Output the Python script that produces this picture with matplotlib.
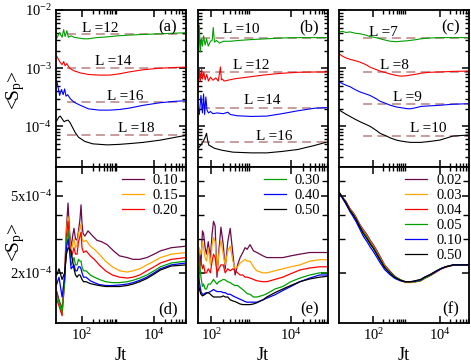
import matplotlib
matplotlib.use("Agg")
import matplotlib.pyplot as plt
from matplotlib.ticker import FixedLocator, FixedFormatter, NullFormatter

plt.rcParams['font.family'] = ['Liberation Serif', 'DejaVu Serif']
plt.rcParams['mathtext.fontset'] = 'custom'
plt.rcParams['mathtext.rm'] = 'Liberation Serif'
plt.rcParams['mathtext.it'] = 'Liberation Serif:italic'

C_PUR = '#6b0a4c'
C_ORA = '#ffa500'
C_RED = '#ff0000'
C_GRN = '#00a000'
C_BLU = '#0000ff'
C_BLK = '#000000'
C_DASH = '#c49494'
top_colors = [C_GRN, C_RED, C_BLU, C_BLK]
bot_colors = [C_PUR, C_ORA, C_RED, C_GRN, C_BLU, C_BLK]

# ---------------- panel (a) ----------------
a_labels = ['L =12', 'L =14', 'L =16', 'L =18']
a_dash = [3.9e-3, 1.0e-3, 2.6e-4, 7.0e-5]
a_x0 = 38
a_x = [
    [20, 24, 28, 31, 34, 38, 42, 50, 60, 80, 110, 150, 250, 500, 1000, 2000, 5000, 15000, 40000, 77000],
    [20, 24, 28, 31, 34, 38, 45, 60, 90, 150, 300, 600, 1100, 2000, 5000, 15000, 40000, 77000],
    [20, 22, 24, 27, 30, 33, 36, 40, 47, 60, 90, 150, 300, 600, 1100, 2000, 5000, 15000, 40000, 77000],
    [20, 23, 25, 28, 32, 36, 41, 47, 55, 65, 80, 120, 200, 500, 1100, 2500, 5000, 15000, 40000, 77000],
]
a_y = [
    [3.3e-3, 4.1e-3, 3.4e-3, 4.6e-3, 3.5e-3, 4.4e-3, 3.4e-3, 3.6e-3, 3.4e-3, 3.3e-3, 3.2e-3, 3.2e-3,
     3.35e-3, 3.45e-3, 3.6e-3, 3.7e-3, 3.8e-3, 3.9e-3, 4.0e-3, 4.05e-3],
    [1.6e-3, 1.3e-3, 1.15e-3, 1.3e-3, 1.1e-3, 1.2e-3, 1.0e-3, 9.0e-4, 8.3e-4, 7.8e-4, 7.6e-4, 7.6e-4,
     8.0e-4, 8.6e-4, 9.4e-4, 1.0e-3, 1.03e-3, 1.04e-3],
    [6.0e-4, 4.5e-4, 3.4e-4, 4.3e-4, 3.5e-4, 4.4e-4, 3.3e-4, 3.5e-4, 3.0e-4, 2.6e-4, 2.3e-4, 2.0e-4,
     1.9e-4, 1.9e-4, 1.95e-4, 2.05e-4, 2.3e-4, 2.55e-4, 2.7e-4, 2.75e-4],
    [1.25e-4, 1.45e-4, 1.5e-4, 1.35e-4, 1.2e-4, 1.25e-4, 1.28e-4, 1.15e-4, 9.5e-5, 7.8e-5, 6.5e-5, 5.5e-5,
     5.0e-5, 4.8e-5, 4.9e-5, 5.1e-5, 5.3e-5, 5.8e-5, 6.5e-5, 7.0e-5],
]

# ---------------- panel (b) ----------------
b_labels = ['L =10', 'L =12', 'L =14', 'L =16']
b_dash = [3.35e-3, 8.6e-4, 2.1e-4, 5.3e-5]
b_x0 = 55
b_x = [
    [46, 48, 50, 53, 56, 60, 64, 70, 76, 84, 95, 105, 112, 120, 135, 160, 200, 300, 500, 1000, 2500,
     6000, 15000, 40000, 84000],
    [47, 50, 53, 57, 60, 65, 70, 77, 85, 95, 110, 130, 150, 170, 180, 190, 210, 260, 400, 800, 2000,
     5000, 15000, 40000, 84000],
    [47, 50, 55, 60, 64, 68, 73, 78, 85, 95, 110, 140, 200, 260, 300, 450, 1000, 2500, 6000, 15000,
     40000, 84000],
    [47, 55, 63, 70, 76, 80, 86, 95, 120, 180, 350, 1000, 2500, 6000, 15000, 40000, 84000],
]
b_y = [
    [9.0e-3, 2.0e-3, 5.5e-3, 1.9e-3, 3.2e-3, 2.4e-3, 3.6e-3, 2.5e-3, 3.2e-3, 2.4e-3, 2.9e-3, 3.0e-3,
     5.0e-3, 2.8e-3, 3.0e-3, 2.7e-3, 2.9e-3, 2.9e-3, 3.0e-3, 3.1e-3, 3.2e-3, 3.3e-3, 3.35e-3, 3.35e-3, 3.35e-3],
    [4.4e-4, 1.0e-3, 6.0e-4, 9.5e-4, 6.5e-4, 8.5e-4, 6.3e-4, 7.8e-4, 6.0e-4, 7.0e-4, 6.2e-4, 6.8e-4,
     6.0e-4, 1.05e-3, 6.3e-4, 6.5e-4, 6.0e-4, 6.2e-4, 6.6e-4, 7.0e-4, 7.6e-4, 8.1e-4, 8.5e-4, 8.6e-4, 8.6e-4],
    [2.0e-4, 1.6e-4, 3.4e-4, 1.7e-4, 3.6e-4, 1.6e-4, 3.2e-4, 1.9e-4, 1.7e-4, 1.8e-4, 1.65e-4, 1.7e-4,
     1.65e-4, 1.75e-4, 1.6e-4, 1.52e-4, 1.48e-4, 1.5e-4, 1.65e-4, 1.85e-4, 2.05e-4, 2.1e-4],
    [4.2e-5, 4.8e-5, 5.5e-5, 6.5e-5, 7.6e-5, 6.0e-5, 4.8e-5, 4.6e-5, 4.2e-5, 3.9e-5, 3.6e-5, 3.5e-5,
     3.5e-5, 3.7e-5, 4.0e-5, 4.7e-5, 5.4e-5],
]

# ---------------- panel (c) ----------------
c_labels = ['L =7', 'L =8', 'L =9', 'L =10']
c_dash = [3.35e-3, 8.6e-4, 2.4e-4, 6.8e-5]
c_x0 = 50
c_xs = [9.5, 12, 15, 20, 28, 40, 60, 80, 120, 160, 250, 330, 500, 660, 1000, 1300, 2000, 2700, 5000,
        10000, 25000, 76000]
c_y = [
    [4.2e-3, 4.3e-3, 4.1e-3, 4.2e-3, 4.0e-3, 3.9e-3, 3.7e-3, 3.5e-3, 3.35e-3, 3.2e-3, 3.0e-3, 2.9e-3,
     2.85e-3, 2.9e-3, 2.95e-3, 3.0e-3, 3.1e-3, 3.2e-3, 3.3e-3, 3.35e-3, 3.35e-3, 3.35e-3],
    [1.75e-3, 1.6e-3, 1.5e-3, 1.42e-3, 1.35e-3, 1.27e-3, 1.15e-3, 1.04e-3, 9.5e-4, 8.9e-4, 8.3e-4, 7.9e-4,
     7.5e-4, 7.3e-4, 7.4e-4, 7.6e-4, 7.9e-4, 8.2e-4, 8.5e-4, 8.6e-4, 8.8e-4, 8.9e-4],
    [5.8e-4, 5.4e-4, 5.1e-4, 4.8e-4, 4.3e-4, 3.9e-4, 3.6e-4, 3.4e-4, 3.0e-4, 2.7e-4, 2.45e-4, 2.3e-4,
     2.15e-4, 2.1e-4, 2.02e-4, 2.0e-4, 2.1e-4, 2.2e-4, 2.25e-4, 2.3e-4, 2.4e-4, 2.45e-4],
    [1.9e-4, 1.75e-4, 1.62e-4, 1.48e-4, 1.33e-4, 1.2e-4, 1.08e-4, 1.0e-4, 8.6e-5, 7.6e-5, 6.8e-5, 6.3e-5,
     5.8e-5, 5.6e-5, 5.4e-5, 5.3e-5, 5.3e-5, 5.3e-5, 5.5e-5, 5.8e-5, 6.8e-5, 7.1e-5],
]

# ---------------- panel (d) ----------------
d_labels = ['0.10', '0.15', '0.20', '0.30', '0.40', '0.50']
d_x_pur = [20, 23, 28, 33, 37, 41, 45, 50, 55, 60, 66, 73, 80, 88, 94, 100, 107, 120, 147, 200, 260,
           350, 500, 750, 1100, 1800, 2600, 4000, 6300, 10000, 15000, 30000, 77000]
d_xs = [20, 23, 28, 33, 37, 41, 45, 50, 55, 60, 66, 73, 80, 88, 94, 100, 110, 130, 170, 220, 300, 450,
        700, 1100, 1800, 2600, 4000, 6300, 10000, 15000, 30000, 77000]
d_y = [
    [1.6e-4, 1.45e-4, 1.3e-4, 2.0e-4, 3.4e-4, 4.6e-4, 3.3e-4, 2.7e-4, 3.1e-4, 3.4e-4, 3.0e-4, 2.95e-4,
     3.3e-4, 3.8e-4, 4.5e-4, 3.6e-4, 3.2e-4, 3.1e-4, 3.3e-4, 3.1e-4, 2.95e-4, 2.9e-4, 2.8e-4, 2.6e-4,
     2.45e-4, 2.4e-4, 2.35e-4, 2.35e-4, 2.4e-4, 2.5e-4, 2.6e-4, 2.7e-4, 2.75e-4],
    [1.5e-4, 1.4e-4, 1.25e-4, 1.9e-4, 3.3e-4, 3.9e-4, 3.1e-4, 2.6e-4, 2.8e-4, 3.0e-4, 2.7e-4, 2.8e-4,
     3.2e-4, 3.4e-4, 3.6e-4, 3.0e-4, 2.9e-4, 2.95e-4, 2.75e-4, 2.65e-4, 2.5e-4, 2.3e-4, 2.15e-4, 2.05e-4,
     2.02e-4, 2.05e-4, 2.1e-4, 2.2e-4, 2.3e-4, 2.4e-4, 2.5e-4, 2.55e-4],
    [1.45e-4, 1.35e-4, 1.2e-4, 1.8e-4, 3.1e-4, 3.7e-4, 2.9e-4, 2.4e-4, 2.55e-4, 2.7e-4, 2.5e-4, 2.5e-4,
     2.9e-4, 3.1e-4, 3.25e-4, 2.7e-4, 2.55e-4, 2.6e-4, 2.45e-4, 2.35e-4, 2.2e-4, 2.05e-4, 1.95e-4, 1.9e-4,
     1.88e-4, 1.9e-4, 1.95e-4, 2.05e-4, 2.15e-4, 2.25e-4, 2.35e-4, 2.4e-4],
    [1.55e-4, 1.4e-4, 1.25e-4, 1.8e-4, 2.9e-4, 3.3e-4, 2.7e-4, 2.2e-4, 2.3e-4, 2.4e-4, 2.2e-4, 2.2e-4,
     2.35e-4, 2.3e-4, 2.3e-4, 2.15e-4, 2.05e-4, 2.05e-4, 1.95e-4, 1.9e-4, 1.85e-4, 1.8e-4, 1.78e-4, 1.78e-4,
     1.8e-4, 1.83e-4, 1.88e-4, 1.95e-4, 2.05e-4, 2.15e-4, 2.25e-4, 2.3e-4],
    [1.75e-4, 1.9e-4, 1.5e-4, 1.9e-4, 2.7e-4, 3.0e-4, 2.6e-4, 2.1e-4, 2.15e-4, 2.2e-4, 2.05e-4, 2.05e-4,
     2.15e-4, 2.15e-4, 2.1e-4, 2.0e-4, 1.9e-4, 1.9e-4, 1.82e-4, 1.78e-4, 1.74e-4, 1.72e-4, 1.72e-4, 1.73e-4,
     1.75e-4, 1.78e-4, 1.83e-4, 1.9e-4, 2.0e-4, 2.1e-4, 2.2e-4, 2.25e-4],
    [1.95e-4, 2.1e-4, 1.85e-4, 2.0e-4, 2.5e-4, 2.7e-4, 2.65e-4, 2.6e-4, 2.3e-4, 2.1e-4, 1.95e-4, 1.9e-4,
     1.95e-4, 1.95e-4, 1.9e-4, 1.85e-4, 1.8e-4, 1.8e-4, 1.76e-4, 1.74e-4, 1.72e-4, 1.7e-4, 1.7e-4, 1.7e-4,
     1.72e-4, 1.75e-4, 1.8e-4, 1.87e-4, 1.97e-4, 2.07e-4, 2.17e-4, 2.2e-4],
]

# ---------------- panel (e) ----------------
e_xs = [46, 50, 55, 60, 64, 70, 76, 84, 95, 105, 114, 125, 139, 155, 175, 200, 224, 260, 299, 350, 398,
        460, 531, 620, 707, 800, 944, 1150, 1400, 2000, 2500, 4000, 6300, 10000, 17000, 30000, 53000, 84000]
e_y = [
    [1.2e-4, 2.6e-4, 2.2e-4, 3.3e-4, 3.2e-4, 2.7e-4, 2.5e-4, 2.9e-4, 2.4e-4, 3.2e-4, 3.7e-4, 3.5e-4,
     1.9e-4, 2.6e-4, 3.45e-4, 2.8e-4, 2.1e-4, 2.9e-4, 3.4e-4, 2.5e-4, 1.95e-4, 2.2e-4, 2.4e-4, 2.55e-4,
     2.7e-4, 2.65e-4, 2.8e-4, 2.6e-4, 2.55e-4, 2.45e-4, 2.4e-4, 2.4e-4, 2.4e-4, 2.45e-4, 2.5e-4, 2.55e-4,
     2.55e-4, 2.55e-4],
    [1.6e-4, 2.7e-4, 2.5e-4, 2.9e-4, 2.7e-4, 2.4e-4, 2.3e-4, 2.7e-4, 2.2e-4, 2.8e-4, 3.05e-4, 2.9e-4,
     2.0e-4, 2.5e-4, 2.95e-4, 2.5e-4, 2.2e-4, 2.6e-4, 2.75e-4, 2.3e-4, 2.1e-4, 2.15e-4, 2.25e-4, 2.3e-4,
     2.35e-4, 2.3e-4, 2.3e-4, 2.15e-4, 2.05e-4, 2.0e-4, 2.0e-4, 2.05e-4, 2.1e-4, 2.15e-4, 2.2e-4, 2.3e-4,
     2.34e-4, 2.34e-4],
    [1.4e-4, 2.1e-4, 2.3e-4, 2.1e-4, 2.2e-4, 2.0e-4, 2.0e-4, 2.1e-4, 2.0e-4, 2.3e-4, 2.5e-4, 2.4e-4,
     2.0e-4, 2.1e-4, 2.2e-4, 2.2e-4, 2.0e-4, 2.1e-4, 2.05e-4, 2.1e-4, 2.05e-4, 2.0e-4, 1.95e-4, 1.95e-4,
     1.9e-4, 1.9e-4, 1.88e-4, 1.85e-4, 1.82e-4, 1.8e-4, 1.8e-4, 1.85e-4, 1.9e-4, 1.98e-4, 2.07e-4, 2.12e-4,
     2.15e-4, 2.15e-4],
    [2.6e-4, 2.4e-4, 1.9e-4, 1.7e-4, 1.75e-4, 1.65e-4, 1.65e-4, 1.75e-4, 1.75e-4, 1.8e-4, 1.85e-4, 1.8e-4,
     1.75e-4, 1.8e-4, 1.82e-4, 1.85e-4, 1.84e-4, 1.8e-4, 1.78e-4, 1.74e-4, 1.72e-4, 1.72e-4, 1.68e-4,
     1.64e-4, 1.6e-4, 1.56e-4, 1.55e-4, 1.5e-4, 1.5e-4, 1.53e-4, 1.56e-4, 1.65e-4, 1.7e-4, 1.8e-4, 1.88e-4,
     1.95e-4, 2.0e-4, 2.0e-4],
    [2.0e-4, 1.8e-4, 1.6e-4, 1.55e-4, 1.55e-4, 1.57e-4, 1.58e-4, 1.58e-4, 1.6e-4, 1.62e-4, 1.64e-4,
     1.62e-4, 1.6e-4, 1.6e-4, 1.6e-4, 1.58e-4, 1.58e-4, 1.55e-4, 1.55e-4, 1.52e-4, 1.5e-4, 1.48e-4,
     1.46e-4, 1.44e-4, 1.42e-4, 1.41e-4, 1.41e-4, 1.41e-4, 1.41e-4, 1.45e-4, 1.48e-4, 1.54e-4, 1.62e-4,
     1.7e-4, 1.8e-4, 1.88e-4, 1.95e-4, 1.95e-4],
    [1.8e-4, 1.65e-4, 1.55e-4, 1.52e-4, 1.53e-4, 1.55e-4, 1.57e-4, 1.58e-4, 1.55e-4, 1.52e-4, 1.5e-4,
     1.5e-4, 1.5e-4, 1.5e-4, 1.5e-4, 1.52e-4, 1.5e-4, 1.5e-4, 1.45e-4, 1.43e-4, 1.42e-4, 1.4e-4, 1.38e-4,
     1.37e-4, 1.37e-4, 1.37e-4, 1.37e-4, 1.38e-4, 1.4e-4, 1.45e-4, 1.5e-4, 1.58e-4, 1.65e-4, 1.72e-4,
     1.8e-4, 1.86e-4, 1.9e-4, 1.92e-4],
]

# ---------------- panel (f) ----------------
f_labels = ['0.02', '0.03', '0.04', '0.05', '0.10', '0.50']
f_xs = [9.5, 12, 15, 20, 25, 30, 40, 50, 65, 81, 100, 130, 163, 220, 327, 450, 658, 900, 1320, 1800,
        2660, 3500, 5340, 7500, 10700, 15000, 26000, 43000, 76000]
f_y = [
    [5.2e-4, 4.9e-4, 4.7e-4, 4.3e-4, 4.1e-4, 3.9e-4, 3.55e-4, 3.35e-4, 3.15e-4, 2.95e-4, 2.8e-4, 2.6e-4,
     2.42e-4, 2.2e-4, 2.03e-4, 1.92e-4, 1.84e-4, 1.8e-4, 1.8e-4, 1.8e-4, 1.83e-4, 1.88e-4, 1.95e-4,
     2.02e-4, 2.1e-4, 2.15e-4, 2.2e-4, 2.2e-4, 2.2e-4],
    [5.2e-4, 4.9e-4, 4.6e-4, 4.25e-4, 4.05e-4, 3.85e-4, 3.5e-4, 3.3e-4, 3.1e-4, 2.9e-4, 2.75e-4, 2.55e-4,
     2.38e-4, 2.18e-4, 2.0e-4, 1.9e-4, 1.83e-4, 1.78e-4, 1.78e-4, 1.79e-4, 1.82e-4, 1.88e-4, 1.95e-4,
     2.02e-4, 2.1e-4, 2.15e-4, 2.2e-4, 2.2e-4, 2.2e-4],
    [5.2e-4, 4.9e-4, 4.6e-4, 4.2e-4, 4.0e-4, 3.8e-4, 3.47e-4, 3.27e-4, 3.07e-4, 2.87e-4, 2.72e-4, 2.52e-4,
     2.36e-4, 2.16e-4, 2.0e-4, 1.9e-4, 1.84e-4, 1.8e-4, 1.8e-4, 1.8e-4, 1.82e-4, 1.87e-4, 1.94e-4,
     2.01e-4, 2.09e-4, 2.14e-4, 2.19e-4, 2.2e-4, 2.2e-4],
    [5.2e-4, 4.9e-4, 4.6e-4, 4.2e-4, 4.0e-4, 3.8e-4, 3.45e-4, 3.25e-4, 3.05e-4, 2.85e-4, 2.7e-4, 2.5e-4,
     2.34e-4, 2.15e-4, 2.0e-4, 1.9e-4, 1.84e-4, 1.8e-4, 1.8e-4, 1.8e-4, 1.82e-4, 1.88e-4, 1.95e-4,
     2.02e-4, 2.1e-4, 2.15e-4, 2.2e-4, 2.2e-4, 2.2e-4],
    [5.2e-4, 4.85e-4, 4.55e-4, 4.15e-4, 3.9e-4, 3.7e-4, 3.35e-4, 3.1e-4, 2.9e-4, 2.72e-4, 2.58e-4, 2.4e-4,
     2.25e-4, 2.08e-4, 1.95e-4, 1.87e-4, 1.82e-4, 1.8e-4, 1.8e-4, 1.81e-4, 1.84e-4, 1.9e-4, 1.96e-4,
     2.03e-4, 2.1e-4, 2.15e-4, 2.2e-4, 2.2e-4, 2.2e-4],
    [5.2e-4, 4.9e-4, 4.6e-4, 4.2e-4, 4.0e-4, 3.8e-4, 3.45e-4, 3.2e-4, 3.0e-4, 2.82e-4, 2.68e-4, 2.48e-4,
     2.32e-4, 2.13e-4, 1.98e-4, 1.89e-4, 1.83e-4, 1.8e-4, 1.8e-4, 1.82e-4, 1.85e-4, 1.9e-4, 1.97e-4,
     2.04e-4, 2.1e-4, 2.15e-4, 2.2e-4, 2.2e-4, 2.2e-4],
]

xlims = [(19, 7.7e4), (45, 8.4e4), (9.3, 7.6e4)]

fig = plt.figure(figsize=(4.71, 3.64), dpi=100)
W, H = 471.0, 364.0
lefts = [56, 197.5, 339]
width = 130
axs_top = [fig.add_axes([l / W, 1 - 167 / H, width / W, 157 / H]) for l in lefts]
axs_bot = [fig.add_axes([l / W, 1 - 323 / H, width / W, 156 / H]) for l in lefts]


def style(ax, xlim):
    ax.set_xscale('log')
    ax.set_yscale('log')
    ax.set_xlim(*xlim)
    ax.xaxis.set_major_locator(FixedLocator([1e2, 1e4]))
    ax.xaxis.set_major_formatter(FixedFormatter(['10$^{2}$', '10$^{4}$']))
    ax.xaxis.set_minor_locator(FixedLocator([k * 10.0 ** e for e in (2, 4) for k in range(2, 10)]))
    ax.xaxis.set_minor_formatter(NullFormatter())
    ax.tick_params(which='both', direction='in', top=True, right=True, labelsize=10.5, pad=3)
    ax.tick_params(which='major', length=5, width=1.1)
    ax.tick_params(which='minor', length=2.8, width=1.0)
    for s in ax.spines.values():
        s.set_linewidth(1.3)


# top row
top_sets = [
    (a_x, a_y, a_dash, a_x0, a_labels),
    (b_x, b_y, b_dash, b_x0, b_labels),
    ([c_xs] * 4, c_y, c_dash, c_x0, c_labels),
]
top_label_pos = [
    [(0.34, 0.885), (0.44, 0.67), (0.53, 0.447), (0.62, 0.243)],
    [(0.34, 0.875), (0.415, 0.645), (0.50, 0.422), (0.59, 0.192)],
    [(0.34, 0.855), (0.43, 0.645), (0.53, 0.441), (0.685, 0.243)],
]
for i, ax in enumerate(axs_top):
    xs, ys, dash, x0, labs = top_sets[i]
    style(ax, xlims[i])
    ax.set_ylim(2e-5, 1e-2)
    for k in range(4):
        ax.plot([x0, xlims[i][1]], [dash[k], dash[k]], color=C_DASH, lw=1.3, dashes=(5, 3), zorder=1)
        ax.plot(xs[k], ys[k], color=top_colors[k], lw=0.8, zorder=2)
        ax.text(*top_label_pos[i][k], labs[k], transform=ax.transAxes, ha='center', va='center',
                fontsize=11)
    ax.yaxis.set_major_locator(FixedLocator([1e-4, 1e-3, 1e-2]))
    ax.yaxis.set_minor_locator(FixedLocator([k * 10.0 ** e for e in (-5, -4, -3) for k in range(2, 10)]))
    ax.yaxis.set_minor_formatter(NullFormatter())
    if i == 0:
        ax.yaxis.set_major_formatter(FixedFormatter(['10$^{-4}$', '10$^{-3}$', '10$^{-2}$']))
    else:
        ax.yaxis.set_major_formatter(NullFormatter())
    ax.xaxis.set_major_formatter(NullFormatter())
    ax.text(0.86, 0.89, '(' + 'abc'[i] + ')', transform=ax.transAxes, ha='center', va='center',
            fontsize=12)

# bottom row
bot_x = [[d_x_pur] + [d_xs] * 5, [e_xs] * 6, [f_xs] * 6]
bot_y = [d_y, e_y, f_y]
bot_labels = [d_labels, d_labels, f_labels]
for i, ax in enumerate(axs_bot):
    style(ax, xlims[i])
    ax.set_ylim(1.1e-4, 7.07e-4)
    lines = []
    for k in range(6):
        ln, = ax.plot(bot_x[i][k], bot_y[i][k], color=bot_colors[k], lw=0.9, label=bot_labels[i][k])
        lines.append(ln)
    ax.yaxis.set_major_locator(FixedLocator([2e-4, 5e-4]))
    ax.yaxis.set_minor_locator(FixedLocator([3e-4, 4e-4, 6e-4]))
    ax.yaxis.set_minor_formatter(NullFormatter())
    if i == 0:
        ax.yaxis.set_major_formatter(FixedFormatter(['2x10$^{-4}$', '5x10$^{-4}$']))
    else:
        ax.yaxis.set_major_formatter(NullFormatter())
    ax.tick_params(axis='y', which='minor', length=4)
    if i == 0:
        leg_lines = lines[:3]
    elif i == 1:
        leg_lines = lines[3:]
    else:
        leg_lines = lines
    ax.legend(handles=leg_lines, loc='upper right', frameon=False, fontsize=10.5, handlelength=1.5,
              handletextpad=0.6, labelspacing=0.12, borderaxespad=0.2, borderpad=0.3)
    ax.set_xlabel('Jt', fontsize=13, labelpad=3)
    ax.text(0.86, 0.09, '(' + 'def'[i] + ')', transform=ax.transAxes, ha='center', va='center',
            fontsize=12)

fig.text(16 / W, 1 - 90 / H, r'<S$_{\rm p}$>', rotation=90, ha='center', va='center', fontsize=14)
fig.text(16 / W, 1 - 242 / H, r'<S$_{\rm p}$>', rotation=90, ha='center', va='center', fontsize=14)

fig.savefig('out.png', dpi=100)
